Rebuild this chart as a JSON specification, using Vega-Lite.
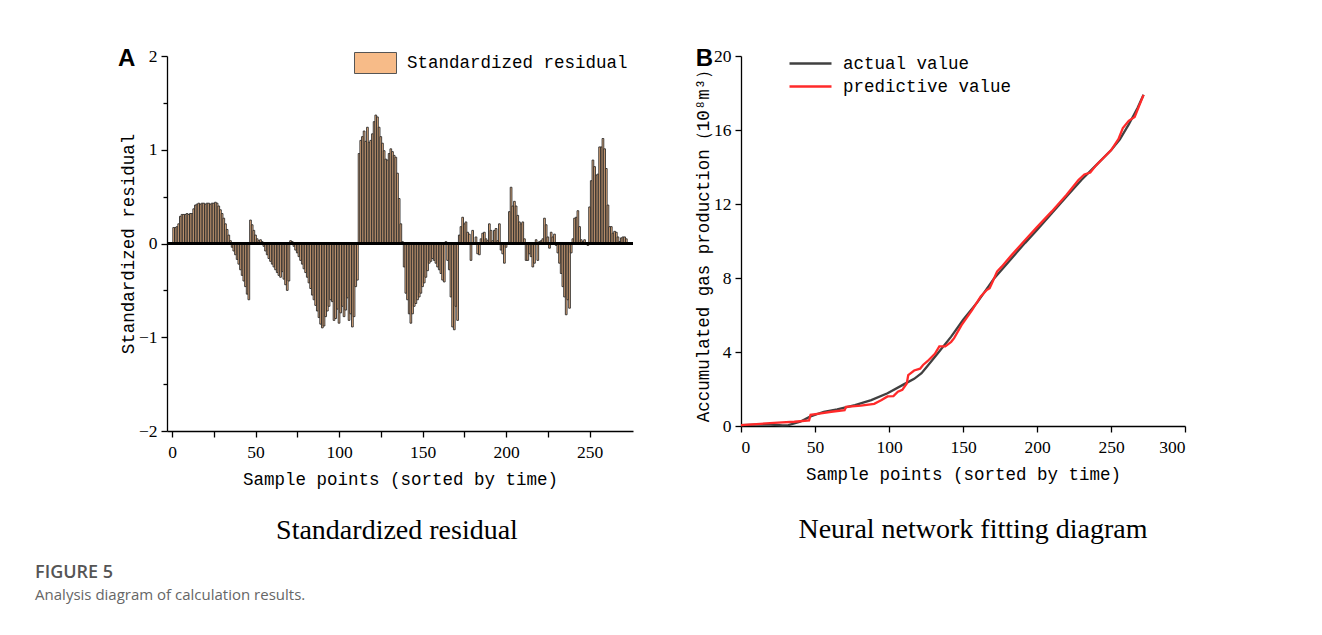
{
  "$schema": "https://vega.github.io/schema/vega-lite/v6.json",
  "background": "white",
  "padding": {"left": 35, "top": 41, "right": 5, "bottom": 5},
  "title": {
    "text": "FIGURE 5",
    "subtitle": "Analysis diagram of calculation results.",
    "orient": "bottom",
    "anchor": "start",
    "frame": "bounds",
    "dx": -82.8,
    "offset": 19,
    "font": "Open Sans",
    "fontSize": 18,
    "fontWeight": 600,
    "color": "#555555",
    "subtitleFont": "Open Sans",
    "subtitleFontSize": 15,
    "subtitleColor": "#666666",
    "subtitlePadding": 6
  },
  "hconcat": [
    {
      "width": 466,
      "height": 375,
      "data": {"values": [
        {"i":1,"v":0.17},{"i":2,"v":0.17},{"i":3,"v":0.18},{"i":4,"v":0.21},{"i":5,"v":0.29},{"i":6,"v":0.31},{"i":7,"v":0.31},{"i":8,"v":0.31},{"i":9,"v":0.32},{"i":10,"v":0.31},
        {"i":11,"v":0.32},{"i":12,"v":0.32},{"i":13,"v":0.37},{"i":14,"v":0.41},{"i":15,"v":0.42},{"i":16,"v":0.43},{"i":17,"v":0.42},{"i":18,"v":0.43},{"i":19,"v":0.43},{"i":20,"v":0.42},
        {"i":21,"v":0.43},{"i":22,"v":0.43},{"i":23,"v":0.42},{"i":24,"v":0.43},{"i":25,"v":0.43},{"i":26,"v":0.44},{"i":27,"v":0.43},{"i":28,"v":0.40},{"i":29,"v":0.36},{"i":30,"v":0.32},
        {"i":31,"v":0.27},{"i":32,"v":0.21},{"i":33,"v":0.15},{"i":34,"v":0.09},{"i":35,"v":0.03},{"i":36,"v":-0.04},{"i":37,"v":-0.08},{"i":38,"v":-0.12},{"i":39,"v":-0.17},{"i":40,"v":-0.22},
        {"i":41,"v":-0.28},{"i":42,"v":-0.34},{"i":43,"v":-0.40},{"i":44,"v":-0.46},{"i":45,"v":-0.54},{"i":46,"v":-0.60},{"i":47,"v":0.25},{"i":48,"v":0.20},{"i":49,"v":0.14},{"i":50,"v":0.09},
        {"i":51,"v":0.05},{"i":52,"v":0.03},{"i":53,"v":0.04},{"i":54,"v":0.02},{"i":55,"v":-0.03},{"i":56,"v":-0.08},{"i":57,"v":-0.12},{"i":58,"v":-0.16},{"i":59,"v":-0.19},{"i":60,"v":-0.22},
        {"i":61,"v":-0.25},{"i":62,"v":-0.28},{"i":63,"v":-0.31},{"i":64,"v":-0.34},{"i":65,"v":-0.36},{"i":66,"v":-0.30},{"i":67,"v":-0.38},{"i":68,"v":-0.44},{"i":69,"v":-0.50},{"i":70,"v":-0.40},
        {"i":71,"v":0.03},{"i":72,"v":0.02},{"i":73,"v":-0.03},{"i":74,"v":-0.07},{"i":75,"v":-0.10},{"i":76,"v":-0.14},{"i":77,"v":-0.18},{"i":78,"v":-0.22},{"i":79,"v":-0.27},{"i":80,"v":-0.31},
        {"i":81,"v":-0.36},{"i":82,"v":-0.42},{"i":83,"v":-0.48},{"i":84,"v":-0.55},{"i":85,"v":-0.60},{"i":86,"v":-0.66},{"i":87,"v":-0.72},{"i":88,"v":-0.79},{"i":89,"v":-0.86},{"i":90,"v":-0.90},
        {"i":91,"v":-0.88},{"i":92,"v":-0.78},{"i":93,"v":-0.72},{"i":94,"v":-0.67},{"i":95,"v":-0.60},{"i":96,"v":-0.62},{"i":97,"v":-0.82},{"i":98,"v":-0.80},{"i":99,"v":-0.70},{"i":100,"v":-0.85},
        {"i":101,"v":-0.74},{"i":102,"v":-0.67},{"i":103,"v":-0.78},{"i":104,"v":-0.71},{"i":105,"v":-0.58},{"i":106,"v":-0.82},{"i":107,"v":-0.75},{"i":108,"v":-0.89},{"i":109,"v":-0.78},{"i":110,"v":-0.46},
        {"i":111,"v":-0.39},{"i":112,"v":0.96},{"i":113,"v":1.10},{"i":114,"v":1.14},{"i":115,"v":1.20},{"i":116,"v":1.09},{"i":117,"v":1.24},{"i":118,"v":1.08},{"i":119,"v":1.10},{"i":120,"v":1.17},
        {"i":121,"v":1.30},{"i":122,"v":1.37},{"i":123,"v":1.35},{"i":124,"v":1.24},{"i":125,"v":1.14},{"i":126,"v":1.07},{"i":127,"v":0.99},{"i":128,"v":0.90},{"i":129,"v":0.89},{"i":130,"v":0.96},
        {"i":131,"v":1.01},{"i":132,"v":0.98},{"i":133,"v":0.94},{"i":134,"v":0.92},{"i":135,"v":0.75},{"i":136,"v":0.48},{"i":137,"v":0.21},{"i":138,"v":0.02},{"i":139,"v":-0.25},{"i":140,"v":-0.53},
        {"i":141,"v":-0.60},{"i":142,"v":-0.75},{"i":143,"v":-0.85},{"i":144,"v":-0.75},{"i":145,"v":-0.67},{"i":146,"v":-0.64},{"i":147,"v":-0.60},{"i":148,"v":-0.57},{"i":149,"v":-0.53},{"i":150,"v":-0.46},
        {"i":151,"v":-0.42},{"i":152,"v":-0.36},{"i":153,"v":-0.29},{"i":154,"v":-0.21},{"i":155,"v":-0.19},{"i":156,"v":-0.16},{"i":157,"v":-0.18},{"i":158,"v":-0.21},{"i":159,"v":-0.25},{"i":160,"v":-0.28},
        {"i":161,"v":-0.32},{"i":162,"v":-0.39},{"i":163,"v":-0.41},{"i":164,"v":0.02},{"i":165,"v":-0.18},{"i":166,"v":-0.28},{"i":167,"v":-0.57},{"i":168,"v":-0.89},{"i":169,"v":-0.92},{"i":170,"v":-0.67},
        {"i":171,"v":-0.82},{"i":172,"v":0.09},{"i":173,"v":0.18},{"i":174,"v":0.28},{"i":175,"v":0.21},{"i":176,"v":0.23},{"i":177,"v":0.12},{"i":178,"v":0.10},{"i":179,"v":-0.18},{"i":180,"v":0.14},
        {"i":181,"v":0.01},{"i":182,"v":0.07},{"i":183,"v":-0.11},{"i":184,"v":-0.12},{"i":185,"v":0.05},{"i":186,"v":0.11},{"i":187,"v":0.12},{"i":188,"v":0.05},{"i":189,"v":0.03},{"i":190,"v":0.21},
        {"i":191,"v":0.14},{"i":192,"v":0.03},{"i":193,"v":0.14},{"i":194,"v":0.16},{"i":195,"v":0.03},{"i":196,"v":0.21},{"i":197,"v":-0.07},{"i":198,"v":-0.11},{"i":199,"v":-0.21},{"i":200,"v":-0.04},
        {"i":201,"v":0.01},{"i":202,"v":0.34},{"i":203,"v":0.60},{"i":204,"v":0.40},{"i":205,"v":0.45},{"i":206,"v":0.40},{"i":207,"v":0.30},{"i":208,"v":0.23},{"i":209,"v":0.21},{"i":210,"v":0.23},
        {"i":211,"v":0.05},{"i":212,"v":-0.18},{"i":213,"v":-0.18},{"i":214,"v":-0.11},{"i":215,"v":-0.14},{"i":216,"v":-0.25},{"i":217,"v":-0.21},{"i":218,"v":0.04},{"i":219,"v":-0.18},{"i":220,"v":0.02},
        {"i":221,"v":0.03},{"i":222,"v":0.05},{"i":223,"v":0.27},{"i":224,"v":0.20},{"i":225,"v":0.07},{"i":226,"v":-0.05},{"i":227,"v":0.12},{"i":228,"v":0.07},{"i":229,"v":0.10},{"i":230,"v":-0.02},
        {"i":231,"v":-0.10},{"i":232,"v":-0.21},{"i":233,"v":-0.32},{"i":234,"v":-0.46},{"i":235,"v":-0.57},{"i":236,"v":-0.76},{"i":237,"v":-0.60},{"i":238,"v":-0.69},{"i":239,"v":-0.10},{"i":240,"v":0.05},
        {"i":241,"v":0.27},{"i":242,"v":0.28},{"i":243,"v":0.35},{"i":244,"v":0.18},{"i":245,"v":0.04},{"i":246,"v":0.02},{"i":247,"v":0.04},{"i":248,"v":0.00},{"i":249,"v":-0.02},{"i":250,"v":0.39},
        {"i":251,"v":0.67},{"i":252,"v":0.89},{"i":253,"v":0.82},{"i":254,"v":0.73},{"i":255,"v":0.74},{"i":256,"v":1.03},{"i":257,"v":1.03},{"i":258,"v":1.12},{"i":259,"v":1.01},{"i":260,"v":0.80},
        {"i":261,"v":0.41},{"i":262,"v":0.18},{"i":263,"v":0.18},{"i":264,"v":0.11},{"i":265,"v":0.13},{"i":266,"v":0.12},{"i":267,"v":0.07},{"i":268,"v":0.02},{"i":269,"v":0.06},{"i":270,"v":0.07},
        {"i":271,"v":0.07},{"i":272,"v":0.05}
      ]},
      "title": {
        "text": "Standardized residual",
        "orient": "bottom",
        "anchor": "middle",
        "frame": "group",
        "dx": -3,
        "offset": 29,
        "font": "Liberation Serif",
        "fontSize": 28,
        "fontWeight": "normal",
        "color": "black"
      },
      "layer": [
        {
          "mark": {"type": "bar", "width": 1.7, "stroke": "#2a2a2a", "strokeWidth": 0.9},
          "encoding": {
            "x": {
              "field": "i", "type": "quantitative",
              "scale": {"domain": [0, 273], "nice": false, "zero": false},
              "axis": {
                "title": "Sample points (sorted by time)",
                "values": [0, 25, 50, 75, 100, 125, 150, 175, 200, 225, 250],
                "labelExpr": "datum.value % 50 === 0 ? datum.label : ''",
                "labelOverlap": false,
                "tickSize": 6, "labelPadding": 6, "titlePadding": 10
              }
            },
            "y": {
              "field": "v", "type": "quantitative",
              "scale": {"domain": [-2, 2], "nice": false},
              "axis": {
                "title": "Standardized residual",
                "values": [-2, -1.5, -1, -0.5, 0, 0.5, 1, 1.5, 2],
                "labelExpr": "datum.value % 1 === 0 ? format(datum.value, 'd') : ''",
                "labelOverlap": false,
                "tickSize": {"condition": {"test": "datum.value % 1 === 0", "value": 6}, "value": 4},
                "labelPadding": 4, "titlePadding": 1
              }
            },
            "color": {
              "datum": "Standardized residual",
              "scale": {"range": ["#f7bb88"]},
              "legend": {
                "title": null,
                "orient": "none",
                "legendX": 187,
                "legendY": -14.5,
                "symbolType": "M-1,-0.5H1V0.5H-1Z",
                "symbolSize": 1764,
                "symbolStrokeColor": "#555555",
                "symbolStrokeWidth": 1,
                "symbolOpacity": 1,
                "labelLimit": 400
              }
            }
          }
        },
        {
          "mark": {"type": "rule", "color": "black", "strokeWidth": 1.3},
          "encoding": {"y": {"datum": 0}}
        },
        {
          "data": {"values": [{}]},
          "mark": {"type": "text", "text": "A", "font": "Liberation Sans", "fontWeight": "bold", "fontSize": 24, "align": "center", "baseline": "middle", "color": "black"},
          "encoding": {"x": {"datum": -27.2}, "y": {"datum": 1.963}}
        }
      ]
    },
    {
      "width": 444,
      "height": 370,
      "data": {"values": [
        {"s":"actual value","t":0,"v":0.05},{"s":"actual value","t":10,"v":0.07},{"s":"actual value","t":20,"v":0.08},{"s":"actual value","t":28,"v":0.03},{"s":"actual value","t":32,"v":0.05},
        {"s":"actual value","t":40,"v":0.23},{"s":"actual value","t":47,"v":0.52},{"s":"actual value","t":56,"v":0.77},{"s":"actual value","t":65,"v":0.9},{"s":"actual value","t":77,"v":1.13},
        {"s":"actual value","t":88,"v":1.4},{"s":"actual value","t":99,"v":1.77},{"s":"actual value","t":110,"v":2.25},{"s":"actual value","t":117,"v":2.55},{"s":"actual value","t":122,"v":2.85},
        {"s":"actual value","t":126,"v":3.24},{"s":"actual value","t":133,"v":3.93},{"s":"actual value","t":142,"v":4.83},{"s":"actual value","t":150,"v":5.73},{"s":"actual value","t":160,"v":6.72},
        {"s":"actual value","t":171,"v":7.98},{"s":"actual value","t":180,"v":8.8},{"s":"actual value","t":192,"v":9.9},{"s":"actual value","t":200,"v":10.6},{"s":"actual value","t":210,"v":11.5},
        {"s":"actual value","t":220,"v":12.4},{"s":"actual value","t":230,"v":13.3},{"s":"actual value","t":240,"v":14.1},{"s":"actual value","t":250,"v":14.9},{"s":"actual value","t":256,"v":15.5},
        {"s":"actual value","t":262,"v":16.3},{"s":"actual value","t":268,"v":17.2},{"s":"actual value","t":272,"v":17.9},
        {"s":"predictive value","t":0,"v":0.05},{"s":"predictive value","t":25,"v":0.18},{"s":"predictive value","t":36,"v":0.23},{"s":"predictive value","t":46,"v":0.3},{"s":"predictive value","t":47,"v":0.6},
        {"s":"predictive value","t":54,"v":0.68},{"s":"predictive value","t":61,"v":0.77},{"s":"predictive value","t":70,"v":0.86},{"s":"predictive value","t":71,"v":1.04},{"s":"predictive value","t":81,"v":1.1},
        {"s":"predictive value","t":90,"v":1.2},{"s":"predictive value","t":95,"v":1.4},{"s":"predictive value","t":99,"v":1.6},{"s":"predictive value","t":103,"v":1.62},{"s":"predictive value","t":106,"v":1.85},
        {"s":"predictive value","t":109,"v":1.95},{"s":"predictive value","t":112,"v":2.3},{"s":"predictive value","t":113,"v":2.75},{"s":"predictive value","t":117,"v":3.0},{"s":"predictive value","t":121,"v":3.1},
        {"s":"predictive value","t":123,"v":3.3},{"s":"predictive value","t":126,"v":3.5},{"s":"predictive value","t":131,"v":3.9},{"s":"predictive value","t":134,"v":4.3},{"s":"predictive value","t":138,"v":4.3},
        {"s":"predictive value","t":142,"v":4.55},{"s":"predictive value","t":144,"v":4.75},{"s":"predictive value","t":149,"v":5.45},{"s":"predictive value","t":156,"v":6.25},{"s":"predictive value","t":162,"v":7.0},
        {"s":"predictive value","t":166,"v":7.35},{"s":"predictive value","t":168,"v":7.45},{"s":"predictive value","t":170,"v":7.8},{"s":"predictive value","t":173,"v":8.35},{"s":"predictive value","t":176,"v":8.6},
        {"s":"predictive value","t":183,"v":9.25},{"s":"predictive value","t":192,"v":10.05},{"s":"predictive value","t":200,"v":10.75},{"s":"predictive value","t":210,"v":11.6},{"s":"predictive value","t":220,"v":12.5},
        {"s":"predictive value","t":228,"v":13.3},{"s":"predictive value","t":232,"v":13.6},{"s":"predictive value","t":236,"v":13.7},{"s":"predictive value","t":240,"v":14.1},{"s":"predictive value","t":245,"v":14.5},
        {"s":"predictive value","t":250,"v":14.9},{"s":"predictive value","t":255,"v":15.5},{"s":"predictive value","t":258,"v":16.1},{"s":"predictive value","t":262,"v":16.5},{"s":"predictive value","t":266,"v":16.7},
        {"s":"predictive value","t":272,"v":17.9}
      ]},
      "title": {
        "text": "Neural network fitting diagram",
        "orient": "bottom",
        "anchor": "middle",
        "frame": "group",
        "dx": 10,
        "offset": 33,
        "font": "Liberation Serif",
        "fontSize": 28,
        "fontWeight": "normal",
        "color": "black"
      },
      "layer": [
        {
          "mark": {"type": "line", "strokeWidth": 2.3},
          "encoding": {
            "x": {
              "field": "t", "type": "quantitative",
              "scale": {"domain": [0, 300], "nice": false},
              "axis": {
                "title": "Sample points (sorted by time)",
                "values": [0, 25, 50, 75, 100, 125, 150, 175, 200, 225, 250, 275, 300],
                "labelExpr": "datum.value % 50 === 0 ? datum.label : ''",
                "labelOverlap": false,
                "tickSize": 6, "labelPadding": 6, "titlePadding": 10
              }
            },
            "y": {
              "field": "v", "type": "quantitative",
              "scale": {"domain": [0, 20], "nice": false},
              "axis": {
                "title": "Accumulated gas production（10⁸m³）",
                "values": [0,1,2,3,4,5,6,7,8,9,10,11,12,13,14,15,16,17,18,19,20],
                "labelExpr": "datum.value % 2 === 0 ? datum.label : ''",
                "labelOverlap": false,
                "tickSize": {"condition": {"test": "datum.value % 2 === 0", "value": 6}, "value": 4},
                "labelPadding": 4, "titlePadding": 1
              }
            },
            "color": {
              "field": "s", "type": "nominal",
              "scale": {"domain": ["actual value", "predictive value"], "range": ["#404040", "#ff2a2a"]},
              "legend": {
                "title": null,
                "orient": "none",
                "legendX": 58,
                "legendY": -4,
                "symbolType": "M-2.1,0H2.1",
                "symbolSize": 400,
                "symbolStrokeWidth": 2.5,
                "labelOffset": 21,
                "rowPadding": 3,
                "labelLimit": 400
              }
            }
          }
        },
        {
          "data": {"values": [{}]},
          "mark": {"type": "text", "text": "B", "font": "Liberation Sans", "fontWeight": "bold", "fontSize": 24, "align": "center", "baseline": "middle", "color": "black"},
          "encoding": {"x": {"datum": -24.7}, "y": {"datum": 19.84}}
        }
      ]
    }
  ],
  "spacing": 60,
  "resolve": {"scale": {"color": "independent"}, "legend": {"color": "independent"}},
  "config": {
    "view": {"stroke": null},
    "axis": {
      "grid": false,
      "domainColor": "black",
      "domainWidth": 1.3,
      "tickColor": "black",
      "tickWidth": 1.3,
      "labelFont": "Liberation Serif",
      "labelFontSize": 17.5,
      "labelColor": "black",
      "titleFont": "Liberation Mono",
      "titleFontSize": 17.5,
      "titleFontWeight": "normal",
      "titleColor": "black"
    },
    "legend": {
      "labelFont": "Liberation Mono",
      "labelFontSize": 17.5,
      "labelColor": "black",
      "padding": 0,
      "labelOffset": 10
    }
  }
}
